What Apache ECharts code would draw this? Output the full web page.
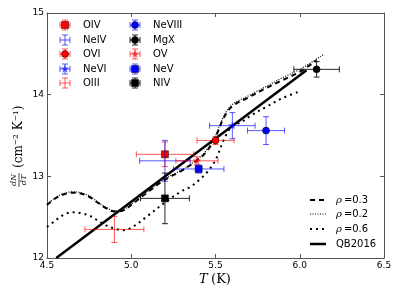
<!DOCTYPE html>
<html><head><meta charset="utf-8">
<script src="https://cdn.jsdelivr.net/npm/echarts@6/dist/echarts.min.js"></script>
<style>html,body{margin:0;padding:0;background:#fff}#c{width:399px;height:299px}</style>
</head><body><div id="c"></div>
<script>
// ---- data ----
const ions   = ['OIV','NeIV','OVI','NeVI','OIII','NeVIII','MgX','OV','NeV','NIV'];
const logT   = [5.20, 5.20, 5.50, 5.60, 4.90, 5.80, 6.10, 5.39, 5.40, 5.20];
const logN   = [13.27, 13.19, 13.44, 13.62, 12.35, 13.56, 14.31, 13.19, 13.09, 12.73];
const errT   = [0.17, 0.15, 0.11, 0.135, 0.175, 0.11, 0.135, 0.125, 0.15, 0.145];
const errN   = [0.15, 0.25, 0.05, 0.16, 0.16, 0.17, 0.095, 0.05, 0.05, 0.31];
const ionColor  = ['red','blue','red','blue','red','blue','black','red','blue','black'];
const ionMarker = ['square','none','circle','star','none','circle','circle','star','square','square'];

const rho03T = [4.50,4.55,4.60,4.65,4.70,4.75,4.80,4.85,4.90,4.95,5.00,5.10,5.20,5.30,5.40,5.45,5.50,5.55,5.60,5.70,5.80,5.90,6.00,6.10];
const rho03N = [12.65,12.73,12.78,12.80,12.79,12.75,12.68,12.61,12.57,12.58,12.65,12.81,12.96,13.07,13.21,13.31,13.48,13.72,13.86,13.97,14.08,14.18,14.28,14.42];
const rho02T = [4.50,4.55,4.60,4.65,4.70,4.75,4.80,4.85,4.90,4.95,5.00,5.10,5.20,5.30,5.40,5.45,5.50,5.55,5.60,5.70,5.80,5.90,6.00,6.14];
const rho02N = [12.66,12.74,12.79,12.81,12.80,12.76,12.69,12.62,12.58,12.59,12.66,12.82,12.97,13.08,13.22,13.33,13.50,13.74,13.88,13.99,14.10,14.21,14.31,14.49];
const rho06T = [4.50,4.55,4.60,4.65,4.70,4.75,4.80,4.85,4.90,4.95,5.00,5.10,5.20,5.30,5.35,5.40,5.45,5.50,5.55,5.60,5.65,5.70,5.80,5.90,6.00];
const rho06N = [12.38,12.46,12.53,12.56,12.55,12.52,12.46,12.40,12.36,12.34,12.37,12.52,12.68,12.82,12.87,12.95,13.05,13.20,13.45,13.62,13.66,13.73,13.85,13.96,14.04];
const qbT = [4.555, 6.04];
const qbN = [12.0, 14.30];

const lineNames = ['ρ=0.3','ρ=0.2','ρ=0.6','QB2016'];
const xTicks = [4.5, 5.0, 5.5, 6.0, 6.5];
const yTicks = [12, 13, 14, 15];

// ---- helpers ----
const RED_E = 'rgba(255,0,0,0.65)', BLUE_E = 'rgba(0,0,255,0.65)', BLK_E = 'rgba(0,0,0,0.85)';
function errCol(c){ return c==='red'?RED_E:(c==='blue'?BLUE_E:BLK_E); }
function fillCol(c){ return c==='red'?'#ff0000':(c==='blue'?'#0000ff':'#000000'); }
function starPts(cx, cy, R, r){
  const p=[]; for(let k=0;k<10;k++){ const a=-Math.PI/2+k*Math.PI/5; const rr=k%2?r:R; p.push([cx+rr*Math.cos(a), cy+rr*Math.sin(a)]); } return p;
}
function glyph(cx, cy, lx, rx, ty, by, color, marker){
  const ec = errCol(color), cap = 3, w = 1;
  const ch = [
    {type:'line', shape:{x1:lx,y1:cy,x2:rx,y2:cy}, style:{stroke:ec,lineWidth:w}},
    {type:'line', shape:{x1:lx,y1:cy-cap,x2:lx,y2:cy+cap}, style:{stroke:ec,lineWidth:w}},
    {type:'line', shape:{x1:rx,y1:cy-cap,x2:rx,y2:cy+cap}, style:{stroke:ec,lineWidth:w}},
    {type:'line', shape:{x1:cx,y1:ty,x2:cx,y2:by}, style:{stroke:ec,lineWidth:w}},
    {type:'line', shape:{x1:cx-cap,y1:ty,x2:cx+cap,y2:ty}, style:{stroke:ec,lineWidth:w}},
    {type:'line', shape:{x1:cx-cap,y1:by,x2:cx+cap,y2:by}, style:{stroke:ec,lineWidth:w}}
  ];
  const fc = fillCol(color);
  if(marker==='square') ch.push({type:'rect', shape:{x:cx-3.5,y:cy-3.5,width:7,height:7}, style:{fill:fc,stroke:'#000',lineWidth:0.5}});
  else if(marker==='circle') ch.push({type:'circle', shape:{cx:cx,cy:cy,r:3.5}, style:{fill:fc,stroke:'#000',lineWidth:0.5}});
  else if(marker==='star') ch.push({type:'polygon', shape:{points:starPts(cx,cy,4.5,1.9)}, style:{fill:color==='red'?'rgba(255,0,0,0.6)':'rgba(0,0,255,0.6)',stroke:'none'}});
  return ch;
}
function zip(a,b){ return a.map((v,i)=>[v,b[i]]); }

// ---- series ----
const series = [];
series.push({name:lineNames[0], type:'line', data:zip(rho03T,rho03N), symbol:'none', smooth:0.35,
  lineStyle:{color:'#000',width:2,type:[5,4]}, z:3, clip:true});
series.push({name:lineNames[1], type:'line', data:zip(rho02T,rho02N), symbol:'none', smooth:0.35,
  lineStyle:{color:'#000',width:1.2,type:[1,1.5]}, z:3, clip:true});
series.push({name:lineNames[2], type:'line', data:zip(rho06T,rho06N), symbol:'none', smooth:0.35,
  lineStyle:{color:'#000',width:2,type:[2,4]}, z:3, clip:true});
series.push({name:lineNames[3], type:'line', data:zip(qbT,qbN), symbol:'none',
  lineStyle:{color:'#000',width:2.5}, z:4, clip:true});

ions.forEach((nm,i)=>{
  series.push({
    name:nm, type:'custom', z:5+i,
    data:[[logT[i], logN[i], errT[i], errN[i]]],
    renderItem:function(params, api){
      const x=api.value(0), y=api.value(1), ex=api.value(2), ey=api.value(3);
      const c=api.coord([x,y]);
      const l=api.coord([x-ex,y])[0], r=api.coord([x+ex,y])[0];
      const t=api.coord([x,y+ey])[1], b=api.coord([x,y-ey])[1];
      return {type:'group', children:glyph(c[0],c[1],l,r,t,b,ionColor[i],ionMarker[i])};
    }
  });
});

// ---- legends as graphics ----
const graphics = [];
const legX = [65, 135], legY = [25, 40, 54, 69, 83];
ions.forEach((nm,i)=>{
  const col = Math.floor(i/5), row = i%5;
  const cx = legX[col], cy = legY[row];
  graphics.push({type:'group', children:glyph(cx,cy,cx-5,cx+5,cy-5,cy+5,ionColor[i],ionMarker[i])});
  graphics.push({type:'text', x:cx+18, y:cy, style:{text:nm, font:'10px "DejaVu Sans"', fill:'#000', verticalAlign:'middle'}});
});
const lLineStyles = [{w:2,d:[5,4]},{w:1.2,d:[1,1.5]},{w:2,d:[2,4]},{w:2.5,d:null}];
const lY = [200, 214, 229, 244];
lineNames.forEach((nm,i)=>{
  graphics.push({type:'line', shape:{x1:310,y1:lY[i],x2:326,y2:lY[i]},
    style:{stroke:'#000',lineWidth:lLineStyles[i].w,lineDash:lLineStyles[i].d}});
  if(nm.startsWith('ρ')){
    graphics.push({type:'text', x:336, y:lY[i], style:{
      text:'{i|ρ}{n|=' + nm.split('=')[1] + '}', verticalAlign:'middle',
      rich:{i:{font:'italic 10px "DejaVu Serif"', fill:'#000'}, n:{font:'10px "DejaVu Sans"', fill:'#000', padding:[0,0,0,2]}}}});
  } else {
    graphics.push({type:'text', x:336, y:lY[i], style:{text:nm, font:'10px "DejaVu Sans"', fill:'#000', verticalAlign:'middle'}});
  }
});
// axis titles
graphics.push({type:'text', x:215, y:280, style:{
  text:'{i|T} {n|(K)}', align:'center', verticalAlign:'middle',
  rich:{i:{font:'italic 13px "DejaVu Serif"', fill:'#000'}, n:{font:'13px "DejaVu Serif"', fill:'#000'}}}});
graphics.push({type:'group', x:19, y:136, rotation:Math.PI/2, children:[
  {type:'text', x:-44, y:-1, style:{text:'dN', font:'italic 8px "DejaVu Serif"', fill:'#000', align:'center', verticalAlign:'bottom'}},
  {type:'line', shape:{x1:-51, y1:0, x2:-37, y2:0}, style:{stroke:'#000', lineWidth:0.7}},
  {type:'text', x:-44, y:1, style:{text:'dT', font:'italic 8px "DejaVu Serif"', fill:'#000', align:'center', verticalAlign:'top'}},
  {type:'text', x:-32, y:0, style:{text:'(cm⁻² K⁻¹)', font:'12px "DejaVu Serif"', fill:'#000', verticalAlign:'middle'}}
]});

const axisCommon = {
  axisLine:{show:true, lineStyle:{color:'#555', width:1}},
  axisTick:{show:true, inside:true, length:4, lineStyle:{color:'#555'}},
  splitLine:{show:false}
};
const option = {
  animation:false,
  backgroundColor:'#fff',
  grid:{left:47, right:15, top:13, bottom:41},
  xAxis:[
    Object.assign({type:'value', min:xTicks[0], max:xTicks[xTicks.length-1], interval:0.5, position:'bottom',
      axisLabel:{fontSize:9, fontFamily:'DejaVu Sans', color:'#000', margin:3, formatter:v=>v.toFixed(1)}}, axisCommon),
    Object.assign({type:'value', min:xTicks[0], max:xTicks[xTicks.length-1], interval:0.5, position:'top',
      axisLabel:{show:false}}, axisCommon)
  ],
  yAxis:[
    Object.assign({type:'value', min:yTicks[0], max:yTicks[yTicks.length-1], interval:1, position:'left',
      axisLabel:{fontSize:9, fontFamily:'DejaVu Sans', color:'#000', margin:3}}, axisCommon),
    Object.assign({type:'value', min:yTicks[0], max:yTicks[yTicks.length-1], interval:1, position:'right',
      axisLabel:{show:false}}, axisCommon)
  ],
  series:series,
  graphic:graphics
};
echarts.init(document.getElementById('c')).setOption(option);
</script></body></html>
